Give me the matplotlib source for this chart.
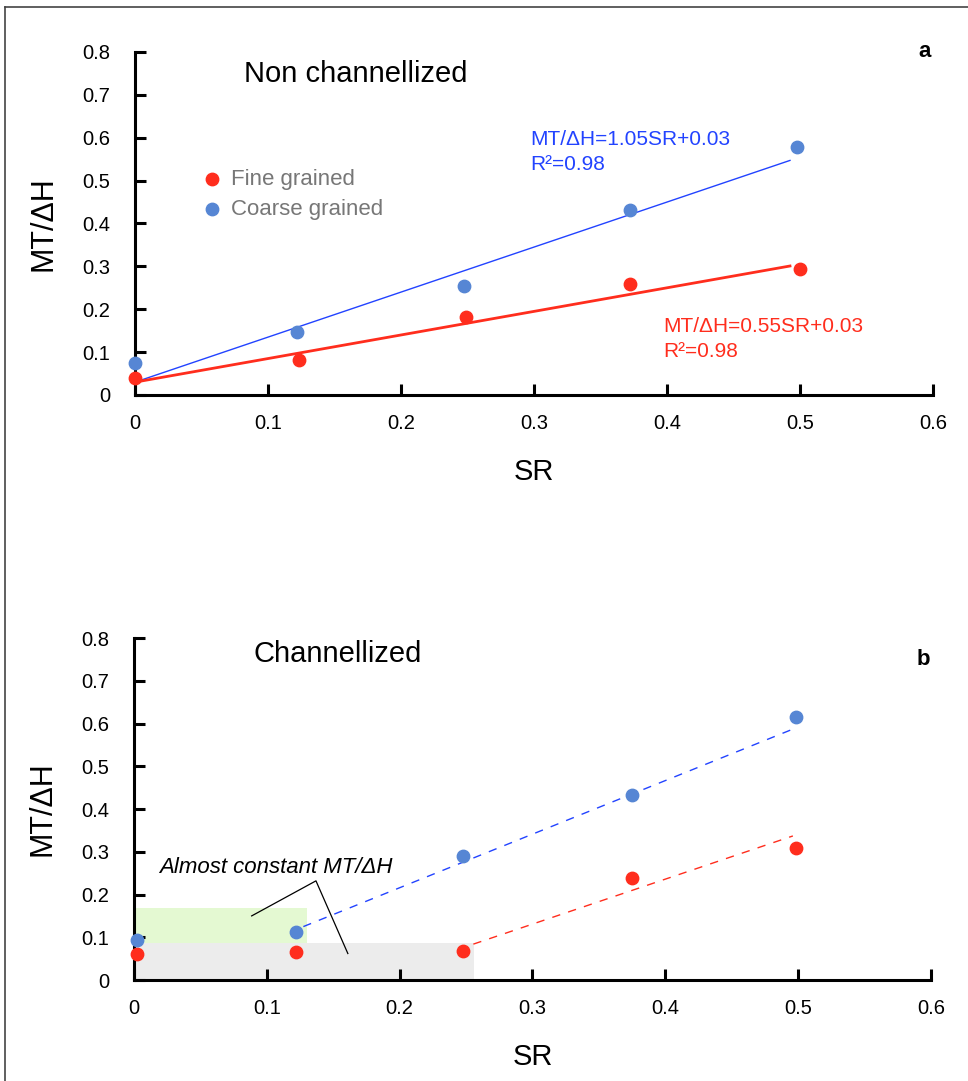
import matplotlib.pyplot as plt
from matplotlib.lines import Line2D
from matplotlib.patches import Rectangle
import numpy as np

plt.rcParams['font.family'] = ['Liberation Sans', 'DejaVu Sans']

# panel a - non channellized
sr_a = [0.0, 0.123, 0.249, 0.372, 0.5]
fine_a = [0.040, 0.082, 0.181, 0.258, 0.294]
sr_a_coarse = [0.0, 0.122, 0.247, 0.372, 0.4975]
coarse_a = [0.075, 0.147, 0.255, 0.431, 0.578]
fit_fine_a = (0.55, 0.03)
fit_coarse_a = (1.05, 0.03)

# panel b - channellized
sr_b = [0.0025, 0.122, 0.2475, 0.375, 0.4985]
fine_b = [0.062, 0.066, 0.068, 0.239, 0.309]
coarse_b = [0.094, 0.112, 0.291, 0.433, 0.615]
trend_coarse_b = ([0.1275, 0.4977], [0.125, 0.589])
trend_fine_b = ([0.2555, 0.496], [0.084, 0.337])

xticks = [0, 0.1, 0.2, 0.3, 0.4, 0.5, 0.6]
yticks = [0, 0.1, 0.2, 0.3, 0.4, 0.5, 0.6, 0.7, 0.8]

RED = '#ff2d1d'
BLUE_DOT = '#5686d4'
BLUE_LINE = '#2243ff'

fig = plt.figure(figsize=(9.68, 10.81), dpi=100)
ax_a = fig.add_axes([0.1395, 0.6346, 0.8243, 0.3173])
ax_b = fig.add_axes([0.1384, 0.0934, 0.8234, 0.3164])


def style(ax):
    ax.set_xlim(0, 0.6)
    ax.set_ylim(0, 0.8)
    ax.set_xticks(xticks)
    ax.set_yticks(yticks)
    ax.set_xticklabels(['0' if t == 0 else f'{t:g}' for t in xticks])
    ax.set_yticklabels(['0' if t == 0 else f'{t:g}' for t in yticks])
    for s in ['top', 'right']:
        ax.spines[s].set_visible(False)
    for s in ['left', 'bottom']:
        ax.spines[s].set_linewidth(2.2)
    ax.tick_params(direction='in', length=8, width=2.2, labelsize=14.5)
    ax.tick_params(axis='x', pad=14)
    ax.tick_params(axis='y', pad=18)
    ax.set_xlabel('SR', fontsize=21, labelpad=18)
    ax.set_ylabel('MT/ΔH', fontsize=22, labelpad=17)
    ax.patch.set_alpha(0)


# ---- panel a ----
style(ax_a)
xf = np.array([0, 0.4925])
ax_a.plot(xf, fit_coarse_a[0] * xf + fit_coarse_a[1], color=BLUE_LINE, lw=1.0, zorder=2)
ax_a.plot(xf, fit_fine_a[0] * xf + fit_fine_a[1], color=RED, lw=2.0, zorder=2)
ax_a.scatter(sr_a, fine_a, s=80, color=RED, zorder=3, clip_on=False, label='Fine grained')
ax_a.scatter(sr_a_coarse, coarse_a, s=80, color=BLUE_DOT, zorder=3, clip_on=False,
             label='Coarse grained')
ax_a.text(0.082, 0.731, 'Non channellized', fontsize=21)
ax_a.text(0.594, 0.8, 'a', fontsize=16, fontweight='bold', ha='center', va='center')
ax_a.text(0.297, 0.618, 'MT/ΔH=1.05SR+0.03\nR²=0.98', fontsize=15, color=BLUE_LINE,
          linespacing=1.4, va='top')
ax_a.text(0.397, 0.183, 'MT/ΔH=0.55SR+0.03\nR²=0.98', fontsize=15, color=RED,
          linespacing=1.4, va='top')
leg = ax_a.legend(loc='upper left', bbox_to_anchor=(0.083, 0.66), frameon=False,
                  fontsize=16, handlelength=1.0, handletextpad=0.35, borderpad=0,
                  borderaxespad=0, labelspacing=0.4, scatterpoints=1)
for t in leg.get_texts():
    t.set_color('#777777')

# ---- panel b ----
style(ax_b)
ax_b.add_patch(Rectangle((0, 0.084), 0.13, 0.084, facecolor='#e4f9d2', edgecolor='none', zorder=0))
ax_b.add_patch(Rectangle((0, 0), 0.256, 0.086, facecolor='#ececec', edgecolor='none', zorder=0))
ax_b.plot(*trend_coarse_b, color=BLUE_LINE, lw=1.0, ls=(0, (6, 6)), zorder=2)
ax_b.plot(*trend_fine_b, color=RED, lw=1.0, ls=(0, (6, 6)), zorder=2)
ax_b.scatter(sr_b, fine_b, s=80, color=RED, zorder=3, clip_on=False)
ax_b.scatter(sr_b, coarse_b, s=80, color=BLUE_DOT, zorder=3, clip_on=False)
ax_b.text(0.09, 0.745, 'Channellized', fontsize=21)
ax_b.text(0.594, 0.749, 'b', fontsize=16, fontweight='bold', ha='center', va='center')
ax_b.text(0.019, 0.251, 'Almost constant MT/ΔH', fontsize=16, style='italic')
ax_b.plot([0.0886, 0.137, 0.161], [0.15, 0.232, 0.062], color='black', lw=0.9, zorder=4)

# figure border
fig.add_artist(Line2D([5 / 968, 1], [1 - 7 / 1081, 1 - 7 / 1081], color='#444444', lw=1.2))
fig.add_artist(Line2D([5 / 968, 5 / 968], [0, 1 - 7 / 1081], color='#444444', lw=1.2))

fig.savefig('out.png', dpi=100)
